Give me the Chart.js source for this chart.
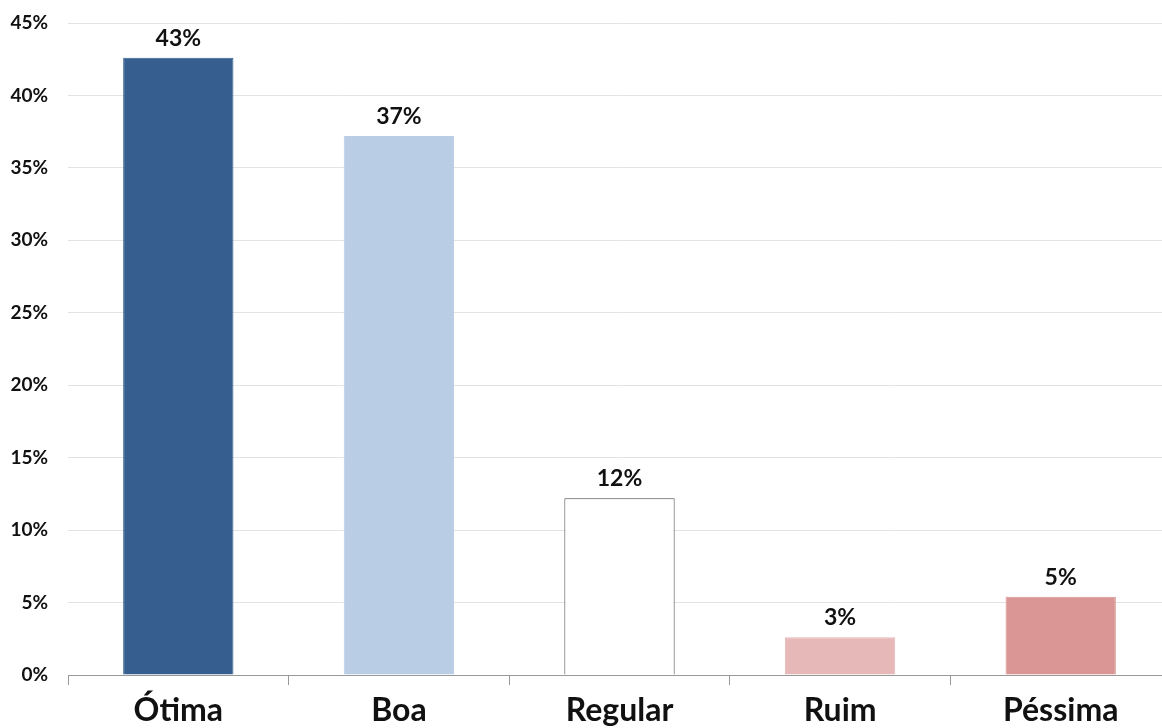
<!DOCTYPE html>
<html><head><meta charset="utf-8">
<script src="https://cdn.jsdelivr.net/npm/chart.js@4/dist/chart.umd.min.js"></script>
<style>
html,body{margin:0;padding:0;overflow:hidden;background:#fff;width:1162px;height:728px;}
#wrap{position:absolute;left:0;top:0;width:1172px;height:728px;}
</style></head><body>
<div id="wrap"><canvas id="c" width="1172" height="728"></canvas></div>
<script>
const categories = ["Ótima", "Boa", "Regular", "Ruim", "Péssima"];
const values = [42.6, 37.2, 12.2, 2.6, 5.4];
const valueLabels = ["43%", "37%", "12%", "3%", "5%"];
const yTicks = [0, 5, 10, 15, 20, 25, 30, 35, 40, 45];
const fills = ["#365F8F", "#B9CDE5", "#FFFFFF", "#E6B9B8", "#D99694"];
const borders = ["#365F8F", "#B9CDE5", "#444444", "#E6B9B8", "#D99694"];

const FONT = "Lato, 'Open Sans', sans-serif";

const labelPlugin = {
  id: 'valueLabels',
  afterDatasetsDraw(chart) {
    const ctx = chart.ctx;
    const meta = chart.getDatasetMeta(0);
    ctx.save();
    ctx.font = "bold 23px " + FONT;
    ctx.fillStyle = "#111";
    ctx.textAlign = "center";
    ctx.textBaseline = "bottom";
    meta.data.forEach((bar, i) => {
      ctx.fillText(valueLabels[i], bar.x, bar.y - 8);
    });
    ctx.restore();
  }
};

new Chart(document.getElementById('c'), {
  type: 'bar',
  data: {
    labels: categories,
    datasets: [{
      data: values,
      backgroundColor: fills,
      borderColor: borders,
      borderWidth: 1,
      barPercentage: 0.5,
      categoryPercentage: 1.0
    }]
  },
  options: {
    responsive: false,
    animation: false,
    layout: { padding: { top: 23, right: 1, left: 0, bottom: 0 } },
    plugins: { legend: { display: false }, tooltip: { enabled: false } },
    scales: {
      x: {
        grid: { display: true, drawOnChartArea: false, drawTicks: true, tickLength: 10, color: "#999", offset: true },
        border: { display: true, color: "#999", width: 1 },
        ticks: { font: { family: FONT, size: 32, weight: 'bold' }, color: "#111", padding: 6, maxRotation: 0 },
        afterFit(s) { s.height = 53; s.paddingLeft = 0; s.paddingRight = 0; }
      },
      y: {
        min: 0, max: 45,
        afterBuildTicks(s) { s.ticks = yTicks.map(v => ({ value: v })); },
        grid: { color: "#E3E3E3", drawTicks: false },
        border: { display: false },
        ticks: {
          font: { family: FONT, size: 19, weight: 'bold' },
          color: "#111",
          padding: 20,
          callback: v => v + "%"
        },
        afterFit(s) { s.width = 68; s.paddingTop = 0; s.paddingBottom = 0; }
      }
    }
  },
  plugins: [labelPlugin]
});
</script>
</body></html>
